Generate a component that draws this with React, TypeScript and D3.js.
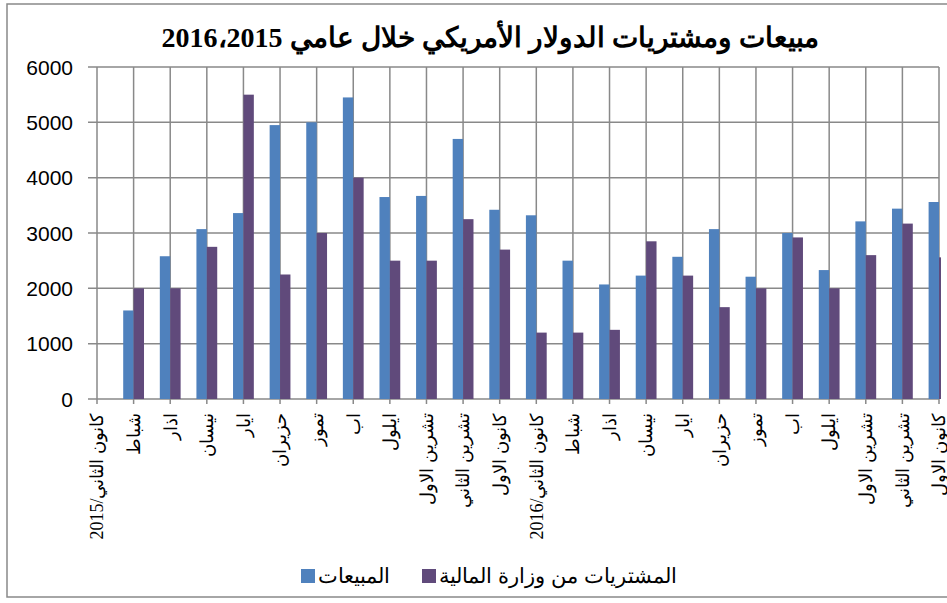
import React from 'react';
import * as d3 from 'd3';

const months2015 = ['كانون الثاني/2015', 'شباط', 'اذار', 'نيسان', 'ايار', 'حزيران', 'تموز', 'اب', 'ايلول', 'تشرين الاول', 'تشرين الثاني', 'كانون الاول'];
const months2016 = ['كانون الثاني/2016', 'شباط', 'اذار', 'نيسان', 'ايار', 'حزيران', 'تموز', 'اب', 'ايلول', 'تشرين الاول', 'تشرين الثاني', 'كانون الاول'];
const categories = [...months2015, ...months2016];

// المبيعات
const sales = [null, 1600, 2580, 3070, 3360, 4950, 5000, 5450, 3650, 3670, 4700, 3420,
  3320, 2500, 2070, 2230, 2570, 3070, 2210, 3000, 2330, 3210, 3440, 3560];
// المشتريات من وزارة المالية
const purchases = [null, 2000, 2000, 2750, 5500, 2250, 3000, 4000, 2500, 2500, 3250, 2700,
  1200, 1200, 1250, 2850, 2230, 1660, 2000, 2920, 2000, 2600, 3170, 2560];

const yTicks = [0, 1000, 2000, 3000, 4000, 5000, 6000];
const title = 'مبيعات ومشتريات الدولار الأمريكي خلال عامي 2016،2015';
const seriesNames = ['المبيعات', 'المشتريات من وزارة المالية'];
const seriesColors = ['#4F81BD', '#604A7B'];

const W = 947, H = 603;
const plot = { left: 97, right: 939, top: 67, bottom: 399 };
const grid = '#898989';

export default function App() {
  const x = d3.scalePoint<number>().domain(d3.range(categories.length)).range([plot.left, plot.right]);
  const y = d3.scaleLinear().domain([0, 6000]).range([plot.bottom, plot.top]);
  const barW = 10.4;
  const series = [sales, purchases];

  return (
    <svg width={W} height={H} style={{ position: 'absolute', left: 0, top: 0, background: '#fff' }}>
      <rect x={7} y={4} width={975} height={593} fill="#fff" stroke={grid} strokeWidth={1.5} />
      <text x={490} y={47} textAnchor="middle" fontFamily="'Times New Roman', 'Liberation Serif', serif"
        fontWeight="bold" fontSize={28}>{title}</text>

      <defs>
        <clipPath id="plotClip">
          <rect x={plot.left} y={plot.top - 2} width={plot.right - plot.left + 2} height={plot.bottom - plot.top + 4} />
        </clipPath>
      </defs>

      {yTicks.map((t) => (
        <g key={t}>
          <line x1={88} x2={plot.right} y1={y(t)} y2={y(t)} stroke={grid} strokeWidth={1.5} />
          <text x={73} y={y(t)} dy="0.36em" textAnchor="end" fontFamily="Arial, 'Liberation Sans', sans-serif"
            fontSize={21}>{t}</text>
        </g>
      ))}
      {categories.map((c, i) => (
        <line key={i} x1={x(i)} x2={x(i)} y1={plot.top} y2={plot.bottom + 5} stroke={grid} strokeWidth={1.5} />
      ))}

      <g clipPath="url(#plotClip)">
        {series.map((vals, s) => vals.map((v, i) => v == null ? null : (
          <rect key={`${s}-${i}`} x={(x(i) as number) + (s === 0 ? -barW : 0)} y={y(v)} width={barW}
            height={plot.bottom - y(v)} fill={seriesColors[s]} />
        )))}
      </g>

      {categories.map((c, i) => (
        <text key={i} transform={`translate(${x(i)},413) rotate(-90)`} textAnchor="end" dy="0.35em"
          fontFamily="'Times New Roman', 'Liberation Serif', serif" fontSize={18}>{c}</text>
      ))}

      {seriesNames.map((n, s) => {
        const lx = s === 0 ? 301 : 422;
        return (
          <g key={n}>
            <rect x={lx} y={569} width={14} height={14} fill={seriesColors[s]} />
            <text x={lx + 17} y={576} dy="0.35em" textAnchor="start"
              fontFamily="Arial, 'Liberation Sans', sans-serif" fontSize={21}>{n}</text>
          </g>
        );
      })}
    </svg>
  );
}
